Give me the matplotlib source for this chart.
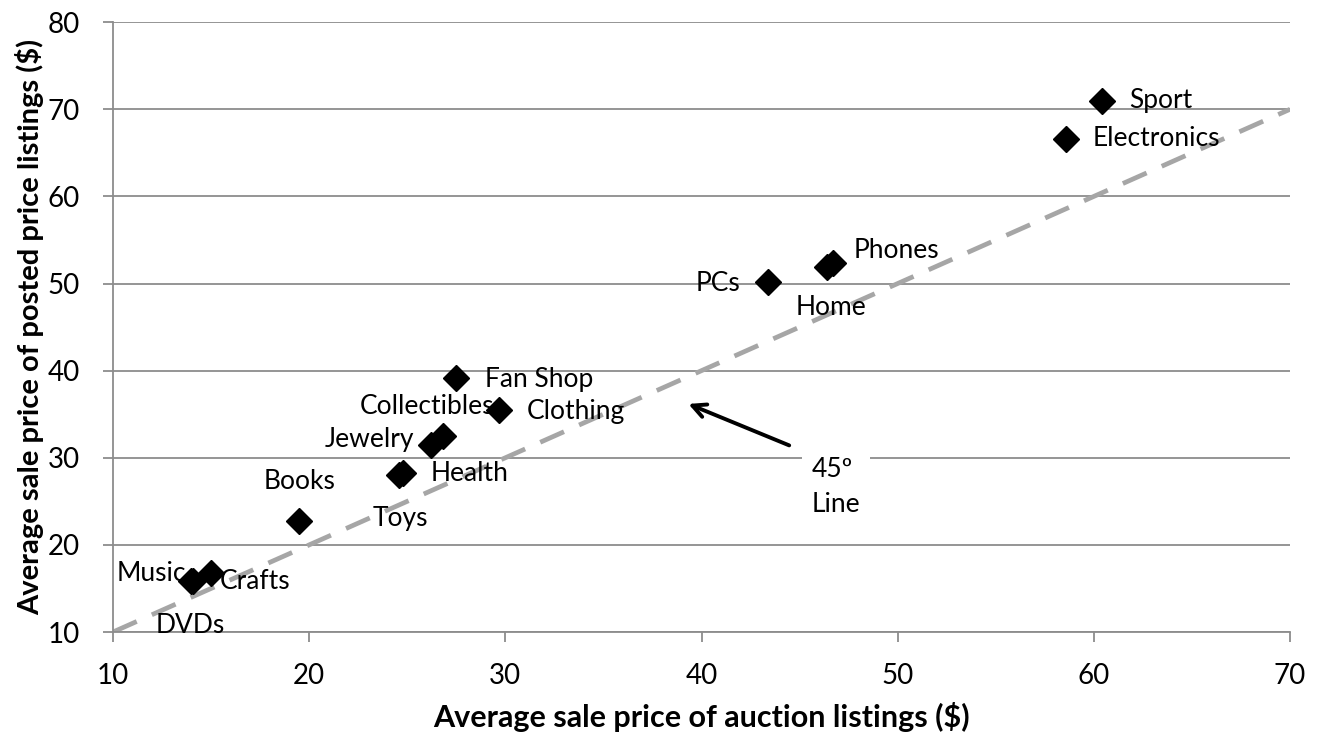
#!/usr/bin/env python3
# Posted price vs auction price by category, with a 45-degree reference line.

import matplotlib
matplotlib.use("Agg")
import matplotlib.pyplot as plt

# --- Data ---
CATEGORIES = ["Sport", "Electronics", "Phones", "Home", "PCs",
              "Fan Shop", "Clothing", "Collectibles", "Jewelry",
              "Health", "Toys", "Books", "Music", "DVDs", "Crafts"]
AUCTION = [60.4, 58.6, 46.7, 46.4, 43.4,
           27.5, 29.7, 26.8, 26.2,
           24.8, 24.6, 19.5, 14.0, 14.1, 15.0]
POSTED = [71.0, 66.6, 52.4, 51.9, 50.2,
          39.2, 35.5, 32.5, 31.5,
          28.3, 28.0, 22.7, 15.8, 15.9, 16.8]

X_TICKS = [10, 20, 30, 40, 50, 60, 70]
Y_TICKS = [10, 20, 30, 40, 50, 60, 70, 80]
DIAG = [10, 70]

# label placement (offset in points, ha) per category
LABEL_POS = {
    "Sport":        ((20, 0), "left"),
    "Electronics":  ((19, 0), "left"),
    "Phones":       ((15, 9), "left"),
    "Home":         ((3, -29), "center"),
    "PCs":          ((-20, -1), "right"),
    "Fan Shop":     ((21, -1), "left"),
    "Clothing":     ((20, -1), "left"),
    "Collectibles": ((-11, 21), "center"),
    "Jewelry":      ((-12, 4), "right"),
    "Health":       ((20, -1), "left"),
    "Toys":         ((1, -31), "center"),
    "Books":        ((0, 29), "center"),
    "Music":        ((-4, 6), "right"),
    "DVDs":         ((-2, -32), "center"),
    "Crafts":       ((6, -6), "left"),
}

GRID = "#8c8c8c"
DASH = "#a6a6a6"

plt.rcParams.update({
    "font.family": ["Lato", "DejaVu Sans"],
    "font.size": 19,
})

fig = plt.figure(figsize=(13.23, 7.38), dpi=100)
ax = fig.add_axes([0.0854, 0.1436, 0.8897, 0.8264])

ax.plot(DIAG, DIAG, color=DASH, linewidth=3.4, dashes=(5.5, 3.5),
        dash_capstyle="butt", zorder=2)
ax.plot(AUCTION, POSTED, linestyle="none", marker="D", markersize=13,
        color="black", zorder=3)

for name, xv, yv in zip(CATEGORIES, AUCTION, POSTED):
    off, ha = LABEL_POS[name]
    ax.annotate(name, (xv, yv), xytext=off, textcoords="offset points",
                ha=ha, va="center", fontsize=19, zorder=4)

# 45 degree line callout
ax.annotate("", xy=(39.2, 36.3), xytext=(44.6, 31.3),
            arrowprops=dict(arrowstyle="->", color="black", lw=2.8,
                            mutation_scale=24), zorder=4)
ax.text(45.6, 26.6, "45º\nLine", ha="left", va="center", fontsize=19,
        linespacing=1.5, zorder=4,
        bbox=dict(facecolor="white", edgecolor="none", pad=7))

ax.set_xlim(10, 70)
ax.set_ylim(10, 80)
ax.set_xticks(X_TICKS)
ax.set_yticks(Y_TICKS)
ax.grid(axis="y", color=GRID, linewidth=1.3, zorder=0)
ax.set_axisbelow(True)
for side in ["top", "right"]:
    ax.spines[side].set_visible(False)
for side in ["left", "bottom"]:
    ax.spines[side].set_color(GRID)
    ax.spines[side].set_linewidth(1.3)
ax.tick_params(axis="both", direction="out", length=7, width=1.3,
               color=GRID, labelsize=20)
ax.tick_params(axis="x", pad=15)
ax.tick_params(axis="y", pad=17)

ax.set_xlabel("Average sale price of auction listings ($)",
              fontsize=22, fontweight="bold", labelpad=10)
ax.set_ylabel("Average sale price of posted price listings ($)",
              fontsize=21, fontweight="bold", labelpad=2)

fig.savefig("out.png", dpi=100)
